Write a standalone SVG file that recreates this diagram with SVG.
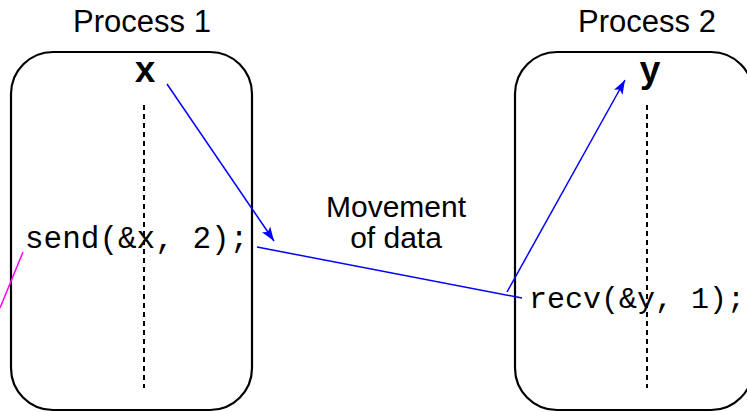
<svg xmlns="http://www.w3.org/2000/svg" width="747" height="412" viewBox="0 0 747 412">
<style>
.box{fill:none;stroke:#000;stroke-width:2.2}
.axis{stroke:#000;stroke-width:2;stroke-dasharray:5 4}
.title{font-family:"Liberation Sans",Arial,sans-serif;font-size:31px;fill:#000;text-anchor:middle}
.code{font-family:"Liberation Mono","Courier New",monospace;font-size:31px;fill:#000}
.var{font-family:"Liberation Mono","Courier New",monospace;font-size:36px;font-weight:bold;fill:#000;text-anchor:middle}
.flow{stroke:#0000ff;stroke-width:1.5;fill:none}
</style>
<defs>
<marker id="ah" viewBox="0 0 14 10" refX="14" refY="5" markerWidth="14" markerHeight="10" markerUnits="userSpaceOnUse" orient="auto">
<path d="M0,0 L14,5 L0,10 L3,5 Z" fill="#0000ff"/>
</marker>
</defs>
<g id="process1">
<text class="title" x="142" y="32">Process 1</text>
<rect class="box" x="11" y="52" width="241" height="358" rx="42" ry="42"/>
<line class="axis" x1="144" y1="105" x2="144" y2="388"/>
<text class="var" x="145" y="82">x</text>
<text class="code" x="25" y="248">send(&amp;x, 2);</text>
</g>
<g id="process2">
<text class="title" x="647" y="32">Process 2</text>
<rect class="box" x="515" y="52" width="238" height="358" rx="42" ry="42"/>
<line class="axis" x1="647" y1="105" x2="647" y2="388"/>
<text class="var" x="650" y="82">y</text>
<text class="code" x="529" y="308" style="font-size:30px">recv(&amp;y, 1);</text>
</g>
<g id="label">
<text class="title" style="font-size:30px"><tspan x="396" y="217">Movement</tspan><tspan x="396" y="248">of data</tspan></text>
</g>
<g id="connectors">
<line class="flow" x1="167" y1="84" x2="274" y2="241" marker-end="url(#ah)"/>
<polyline class="flow" points="257,247 522,298"/>
<line class="flow" x1="507" y1="292" x2="625" y2="80" marker-end="url(#ah)"/>
<line stroke="#ff00ff" stroke-width="1.5" x1="23" y1="252" x2="0" y2="308"/>
</g>
</svg>
